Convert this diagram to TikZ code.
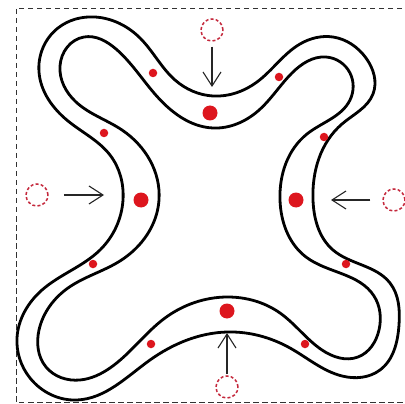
\documentclass[tikz,border=0pt]{standalone}
\usetikzlibrary{arrows.meta,hobby}
\definecolor{dotred}{RGB}{221,22,30}
\definecolor{ghostred}{RGB}{196,40,60}
\definecolor{framegray}{RGB}{50,50,50}
\begin{document}
\begin{tikzpicture}[x=1pt,y=-1pt,
  band/.style={line width=2.8pt, black, line join=round},
  bigdot/.style={circle, fill=dotred, inner sep=0pt, minimum size=15pt},
  smalldot/.style={circle, fill=dotred, inner sep=0pt, minimum size=8.5pt},
  ghost/.style={circle, draw=ghostred, line width=1.5pt, dash pattern=on 3pt off 2.2pt, inner sep=0pt, minimum size=22pt},
  push/.style={draw=black!85, line width=1.1pt, -{Straight Barb[length=14pt,width=18pt,line width=1.1pt]}},
]
\useasboundingbox (0,0) rectangle (405,404);
\begin{scope}
\clip (0,0) rectangle (405,404);
% dashed frame
\draw[framegray, line width=0.9pt, dash pattern=on 5.5pt off 3.5pt] (420,8) -- (16,8) -- (16,402) -- (420,402);
% outer wall of the channel
\draw[band, use Hobby shortcut, closed=true]
  (213,96) .. (257,82) .. (300,44) .. (333,37) .. (366,58) .. (373,94)
  .. (342,124) .. (313,200) .. (333,250) .. (390,283) .. (399,325)
  .. (380,370) .. (342,376) .. (290,348) .. (227,332) .. (150,360)
  .. (77,400) .. (30,378) .. (17,338) .. (42,290) .. (100,250) .. (123,200)
  .. (110,155) .. (68,121) .. (39,72) .. (58,28) .. (95,17) .. (140,38) .. (175,80);
% inner wall of the channel
\draw[band, use Hobby shortcut, closed=true]
  (213,128) .. (258,111) .. (292,73) .. (326,57) .. (350,73) .. (350,100)
  .. (307,134) .. (280,200) .. (306,257) .. (374,296) .. (379,330)
  .. (358,357) .. (322,350) .. (280,313) .. (227,297) .. (165,318)
  .. (110,368) .. (80,380) .. (46,367) .. (39,330) .. (68,288) .. (120,261)
  .. (159,200) .. (122,130) .. (76,102) .. (60,66) .. (84,37) .. (116,49) .. (154,93);
% particles in the channel
\foreach \p/\q [count=\i] in {153/73, 279/77, 104/133, 324/137, 93/264, 346/264, 151/344, 305/344}
  \node[smalldot] (s\i) at (\p,\q) {};
\node[bigdot] (btop) at (210,113) {};
\node[bigdot] (bleft) at (141,200) {};
\node[bigdot] (bright) at (296,200) {};
\node[bigdot] (bbot) at (227,311) {};
% former positions
\node[ghost] (gtop) at (212,30) {};
\node[ghost] (gleft) at (37,195) {};
\node[ghost] (gright) at (394,200) {};
\node[ghost] (gbot) at (227,387) {};
% arrow tips near the walls
\coordinate (ttop) at (212,87);
\coordinate (tleft) at (104,195);
\coordinate (tright) at (331,200);
\coordinate (tbot) at (227,333);
\draw[push, shorten <=5pt] (gtop) -- (ttop);
\draw[push, shorten <=15pt] (gleft) -- (tleft);
\draw[push, shorten <=12pt] (gright) -- (tright);
\draw[push, shorten <=1pt] (gbot) -- (tbot);
\end{scope}
\end{tikzpicture}
\end{document}
